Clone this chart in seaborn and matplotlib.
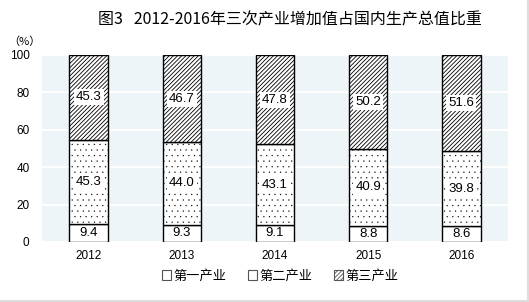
import matplotlib
matplotlib.use("Agg")
import matplotlib.pyplot as plt
import seaborn as sns
import numpy as np
import pandas as pd
from matplotlib.patches import Patch

years = ["2012", "2013", "2014", "2015", "2016"]
primary = [9.4, 9.3, 9.1, 8.8, 8.6]
secondary = [45.3, 44.0, 43.1, 40.9, 39.8]
tertiary = [45.3, 46.7, 47.8, 50.2, 51.6]
series_names = ["第一产业", "第二产业", "第三产业"]
title = "图3   2012-2016年三次产业增加值占国内生产总值比重"

sns.set_theme(style="white")
plt.rcParams['font.family'] = ['Noto Sans CJK SC', 'DejaVu Sans']
plt.rcParams['hatch.linewidth'] = 0.6
plt.rcParams['hatch.color'] = 'black'
plt.rcParams['text.color'] = 'black'
plt.rcParams['xtick.color'] = 'black'
plt.rcParams['ytick.color'] = 'black'

fig = plt.figure(figsize=(5.29, 3.02), dpi=100)
ax = fig.add_axes([42/529, 60/302, 466/529, 187/302])
ax.set_facecolor("#EDF5F8")

df = pd.DataFrame({"year": years, "p": primary, "s": secondary, "t": tertiary})
bottom2 = np.array(primary)
bottom3 = bottom2 + np.array(secondary)
hatches = [None, '...', '////////']
bw = 0.41
sns.barplot(data=df, x="year", y="p", color="white", edgecolor="black",
            linewidth=1.0, width=bw, ax=ax, saturation=1)
n0 = len(ax.patches)
sns.barplot(data=df, x="year", y="s", bottom=bottom2, color="white", edgecolor="black",
            linewidth=1.0, width=bw, ax=ax, saturation=1)
n1 = len(ax.patches)
sns.barplot(data=df, x="year", y="t", bottom=bottom3, color="white", edgecolor="black",
            linewidth=1.0, width=bw, ax=ax, saturation=1)
for i, p in enumerate(ax.patches):
    if n0 <= i < n1:
        p.set_hatch(hatches[1])
        if hasattr(p, "set_hatch_linewidth"):
            p.set_hatch_linewidth(0.15)
    elif i >= n1:
        p.set_hatch(hatches[2])

for i in range(len(years)):
    ax.text(i, primary[i] / 2, f"{primary[i]:.1f}", ha="center", va="center",
            fontsize=9.5, family="Liberation Sans", zorder=5)
    ax.text(i, bottom2[i] + secondary[i] / 2, f"{secondary[i]:.1f}", ha="center", va="center",
            fontsize=9.5, family="Liberation Sans", zorder=5,
            bbox=dict(facecolor="white", edgecolor="none", pad=1.5))
    ax.text(i, bottom3[i] + tertiary[i] / 2, f"{tertiary[i]:.1f}", ha="center", va="center",
            fontsize=9.5, family="Liberation Sans", zorder=5,
            bbox=dict(facecolor="white", edgecolor="none", pad=1.5))

ax.set_ylim(0, 100)
ax.set_xlim(-0.5, 4.5)
ax.set_yticks([0, 20, 40, 60, 80, 100])
ax.yaxis.grid(True, color="white", linewidth=1.5)
ax.set_axisbelow(True)
for s in ax.spines.values():
    s.set_visible(False)
ax.tick_params(axis="both", length=0, labelsize=8.5, pad=6)
for lbl in ax.get_xticklabels() + ax.get_yticklabels():
    lbl.set_family("Liberation Sans")
ax.tick_params(axis="y", pad=9)
ax.set_xlabel("")
ax.set_ylabel("")

fig.text(290/529, 1 - 20/302, title, ha="center", va="center", fontsize=11.5)
fig.text(24/529, 1 - 42/302, "（%）", ha="center", va="center", fontsize=8)

handles = [Patch(facecolor="white", edgecolor="#555555", hatch=h, linewidth=0.8) for h in [None, None, '////////']]
fig.legend(handles, series_names, loc="center", bbox_to_anchor=(280/529, 1 - 276/302),
           ncol=3, frameon=False, fontsize=9.5, handlelength=0.7, handleheight=0.7,
           handletextpad=0.2, columnspacing=1.6)

fig.add_artist(plt.Line2D([0, 1], [1/302, 1/302], color="#DDDDDD", linewidth=1.5))
fig.add_artist(plt.Line2D([527.5/529, 527.5/529], [0, 1], color="#DDDDDD", linewidth=1.5))

fig.savefig("out.png", dpi=100)
